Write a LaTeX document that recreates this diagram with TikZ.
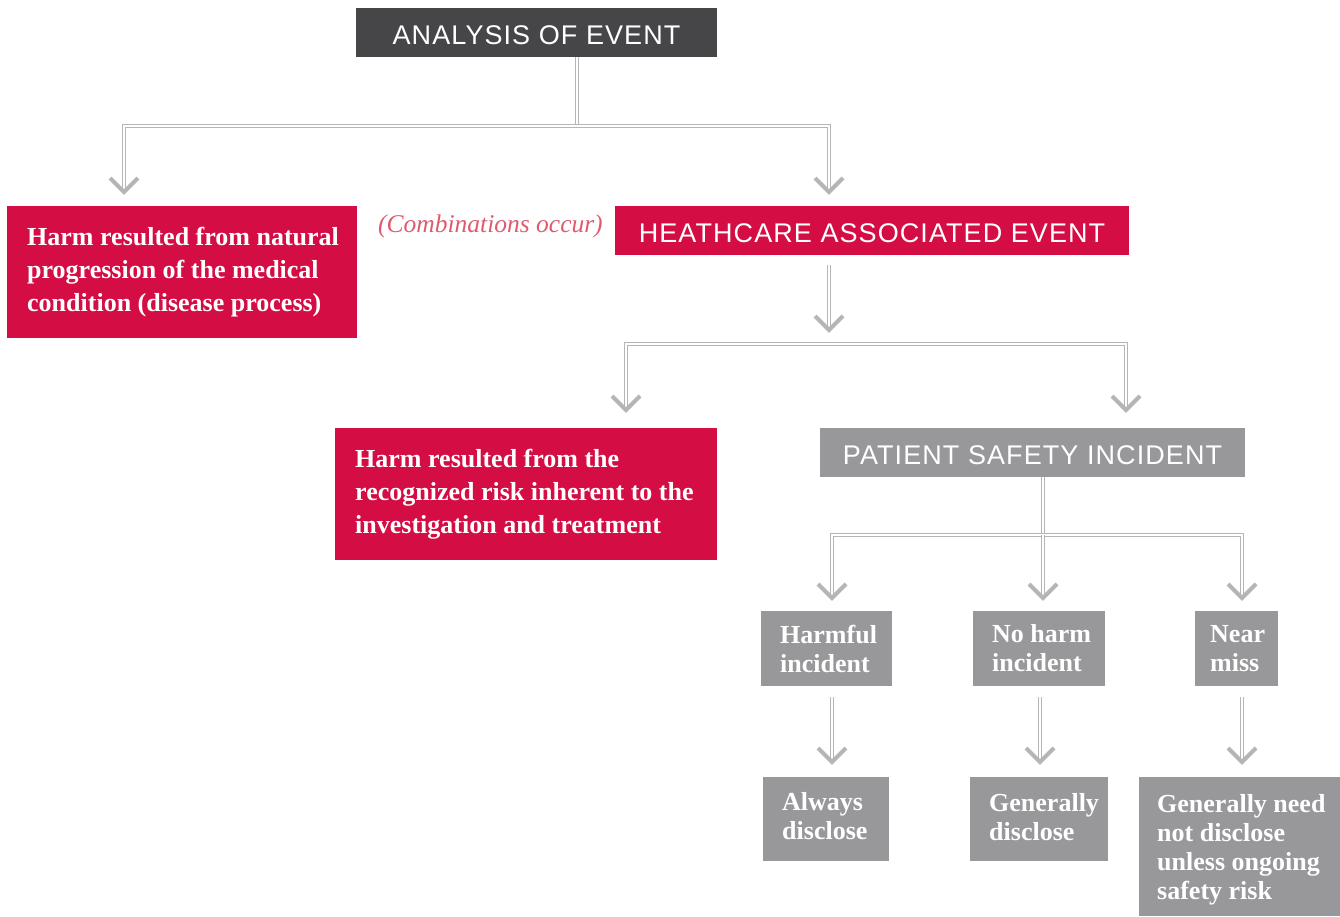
\documentclass[tikz,border=0pt]{standalone}
\usepackage{fontspec}
\setmainfont{Liberation Serif}
\newfontfamily\capsfont[LetterSpace=4]{Liberation Sans}
\usetikzlibrary{calc}
\definecolor{redbox}{HTML}{D40D44}
\definecolor{darkbox}{HTML}{464547}
\definecolor{graybox}{HTML}{98989B}
\definecolor{linegray}{HTML}{B5B5B5}
\definecolor{pinktext}{HTML}{E05A6E}
\tikzset{
  box/.style={inner sep=0pt, outer sep=0pt, anchor=north west},
  capbox/.style={box, text=white, font=\capsfont\fontsize{27}{30}\selectfont, minimum height=49pt, text height=23pt, text depth=0pt},
  btext/.style={inner sep=0pt, anchor=west, align=left, text=white, font=\bfseries\fontsize{26}{33}\selectfont},
  stext/.style={inner sep=0pt, anchor=west, align=left, text=white, font=\bfseries\fontsize{26}{29}\selectfont},
  dline/.style={draw=linegray, line width=1.1pt, double=white, double distance=2pt},
  chev/.style={draw=linegray, line width=4pt, line cap=butt, line join=miter},
}
\newcommand\chevat[1]{\draw[chev] ($(#1)+(-14,-14)$) -- (#1) -- ($(#1)+(14,-14)$);}
\begin{document}
\begin{tikzpicture}[x=1pt, y=-1pt]
\useasboundingbox (0,0) rectangle (1340,916);
% boxes
\node[capbox, fill=darkbox, minimum width=361pt] (ana) at (356,8) {ANALYSIS OF EVENT};
\node[box, fill=redbox, minimum width=350pt, minimum height=132pt] (nat) at (7,206) {};
\node[btext] (natt) at ([xshift=20pt]nat.west) {Harm resulted from natural\\progression of the medical\\condition (disease process)};
\node[inner sep=0pt, anchor=base west, text=pinktext, font=\itshape\fontsize{25.5}{30}\selectfont] (comb) at (378,232) {(Combinations occur)};
\node[capbox, fill=redbox, minimum width=514pt] (hae) at (615,206) {HEATHCARE ASSOCIATED EVENT};
\node[box, fill=redbox, minimum width=382pt, minimum height=132pt] (risk) at (335,428) {};
\node[btext] (riskt) at ([xshift=20pt]risk.west) {Harm resulted from the\\recognized risk inherent to the\\investigation and treatment};
\node[capbox, fill=graybox, minimum width=425pt] (psi) at (820,428) {PATIENT SAFETY INCIDENT};
\node[box, fill=graybox, minimum width=131pt, minimum height=75pt] (hi) at (761,611) {};
\node[stext] (hit) at ([xshift=19pt]hi.west) {Harmful\\incident};
\node[box, fill=graybox, minimum width=132pt, minimum height=75pt] (nh) at (973,611) {};
\node[stext] (nht) at ([xshift=19pt]nh.west) {No harm\\incident};
\node[box, fill=graybox, minimum width=83pt, minimum height=75pt] (nm) at (1195,611) {};
\node[stext] (nmt) at ([xshift=15pt]nm.west) {Near\\miss};
\node[box, fill=graybox, minimum width=126pt, minimum height=84pt] (ad) at (763,777) {};
\node[stext] (adt) at ([xshift=19pt,yshift=3pt]ad.west) {Always\\disclose};
\node[box, fill=graybox, minimum width=138pt, minimum height=84pt] (gd) at (970,777) {};
\node[stext] (gdt) at ([xshift=19pt,yshift=2pt]gd.west) {Generally\\disclose};
\node[box, fill=graybox, minimum width=201pt, minimum height=139pt] (nd) at (1139,777) {};
\node[stext] (ndt) at ([xshift=18pt,yshift=-3pt]nd.west) {Generally need\\not disclose\\unless ongoing\\safety risk};
% coordinates
\coordinate (j1) at (577,126);
\coordinate (a1) at (124,189);
\coordinate (a2) at (829,189);
\coordinate (b0) at (829,327);
\coordinate (j2) at (829,344);
\coordinate (b1) at (626,407);
\coordinate (b2) at (1126,407);
\coordinate (j3) at (1043,535);
\coordinate (c1) at (832,595);
\coordinate (c2) at (1043,595);
\coordinate (c3) at (1242,595);
\coordinate (d1) at (832,759);
\coordinate (d2) at (1040,759);
\coordinate (d3) at (1242,759);
% connectors
\draw[dline] (ana.south -| j1) -- (j1);
\draw[dline] (a1) -- (a1 |- j1) -- (a2 |- j1) -- (a2);
\draw[dline] ([yshift=-10pt]hae.south -| b0) -- (b0);
\draw[dline] (b1) -- (b1 |- j2) -- (b2 |- j2) -- (b2);
\draw[dline] (psi.south -| j3) -- (j3);
\draw[dline] (c1) -- (c1 |- j3) -- (c3 |- j3) -- (c3);
\draw[dline] (j3) -- (c2);
\draw[dline] ([yshift=-11pt]hi.south -| d1) -- (d1);
\draw[dline] ([yshift=-11pt]nh.south -| d2) -- (d2);
\draw[dline] ([yshift=-11pt]nm.south -| d3) -- (d3);
% chevrons
\coordinate (ta1) at (124,192);
\coordinate (ta2) at (829,192);
\coordinate (tb0) at (829,330);
\coordinate (tb1) at (626,410);
\coordinate (tb2) at (1126,410);
\coordinate (tc1) at (832,598);
\coordinate (tc2) at (1043,598);
\coordinate (tc3) at (1242,598);
\coordinate (td1) at (832,762);
\coordinate (td2) at (1040,762);
\coordinate (td3) at (1242,762);
\chevat{ta1}\chevat{ta2}\chevat{tb0}\chevat{tb1}\chevat{tb2}
\chevat{tc1}\chevat{tc2}\chevat{tc3}\chevat{td1}\chevat{td2}\chevat{td3}
\end{tikzpicture}
\end{document}
